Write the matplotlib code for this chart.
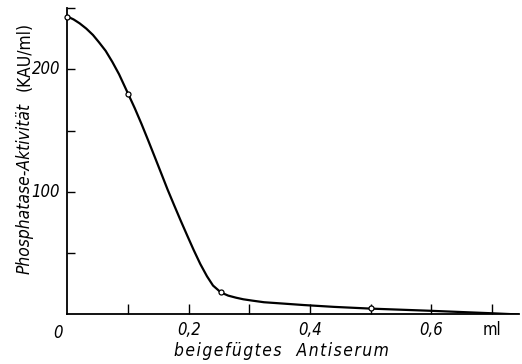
import matplotlib
matplotlib.use("Agg")
import matplotlib.pyplot as plt

# Messpunkte (offene Kreise)
punkte_x = [0.0, 0.1, 0.253, 0.5]
punkte_y = [243, 180, 18, 5]

kurve_x = [0.0, 0.01, 0.02, 0.031, 0.042, 0.052, 0.063, 0.074, 0.085, 0.1,
           0.111, 0.122, 0.133, 0.144, 0.155, 0.165, 0.176, 0.187, 0.198,
           0.208, 0.219, 0.23, 0.24, 0.253, 0.265, 0.278, 0.29, 0.305, 0.324,
           0.35, 0.39, 0.44, 0.5, 0.55, 0.6, 0.65, 0.7, 0.745]
kurve_y = [243, 240.7, 237.5, 233.2, 228, 222, 215, 206, 196, 180,
           168.2, 155.5, 142.1, 128.4, 114.6, 102, 89, 76.2, 63.8,
           52.7, 41.2, 31.2, 23.6, 18, 15.4, 13.7, 12.4, 11.3, 10,
           9.1, 7.7, 6.2, 4.8, 3.9, 3, 2, 1, 0]

x_ticks = [0.1, 0.2, 0.3, 0.4, 0.5, 0.6, 0.7]
x_labels = {0.2: "0,2", 0.4: "0,4", 0.6: "0,6"}
y_ticks = [50, 100, 150, 200, 250]
y_labels = {100: "100", 200: "200"}

schrift = ["DejaVu Sans"]
eng = "condensed"

fig = plt.figure(figsize=(5.22, 3.64), dpi=100)
ax = fig.add_axes([0.1293, 0.136, 0.9947 - 0.1293, 0.978 - 0.136])

ax.plot(kurve_x, kurve_y, color="black", lw=1.6, solid_joinstyle="round",
        solid_capstyle="round")
ax.plot(punkte_x, punkte_y, "o", ms=3.6, mfc="white", mec="black", mew=0.9,
        zorder=3, clip_on=False)

ax.set_xlim(0, 0.745)
ax.set_ylim(0, 250)
for s in ["top", "right"]:
    ax.spines[s].set_visible(False)
ax.spines["left"].set_linewidth(1.3)
ax.spines["bottom"].set_linewidth(1.3)

ax.set_xticks(x_ticks)
ax.set_xticklabels([])
ax.tick_params(axis="x", direction="in", length=7, width=1)
ax.set_yticks(y_ticks)
ax.set_yticklabels([])
ax.tick_params(axis="y", direction="in", length=6, width=1)

# Beschriftungen der Achsen
for xv, txt in x_labels.items():
    ax.text(xv, -13, txt, ha="center", va="center", fontsize=12,
            style="italic", family=schrift, stretch=eng)
ax.text(0.7, -13, "ml", ha="center", va="center", fontsize=12,
        family=schrift, stretch=eng)
ax.text(-0.016, -15, "0", ha="center", va="center", fontsize=12,
        style="italic", family=schrift, stretch=eng)
for yv, txt in y_labels.items():
    ax.text(-0.012, yv, txt, ha="right", va="center", fontsize=12,
            style="italic", family=schrift, stretch=eng)

# gesperrter Text wie im Original
xlabel = "\u200a".join("beigefügtes") + "   " + "\u200a".join("Antiserum")
fig.text(0.54, 0.037, xlabel, ha="center", va="center", fontsize=12.5,
         style="italic", family=schrift, stretch=eng)
fig.text(0.048, 0.482, "Phosphatase-Aktivität", rotation=90, ha="center",
         va="center", fontsize=12.5, style="italic", family=schrift,
         stretch=eng)
fig.text(0.048, 0.845, "(KAU/ml)", rotation=90, ha="center",
         va="center", fontsize=12.5, family=schrift, stretch=eng)

fig.savefig("out.png", dpi=100)
